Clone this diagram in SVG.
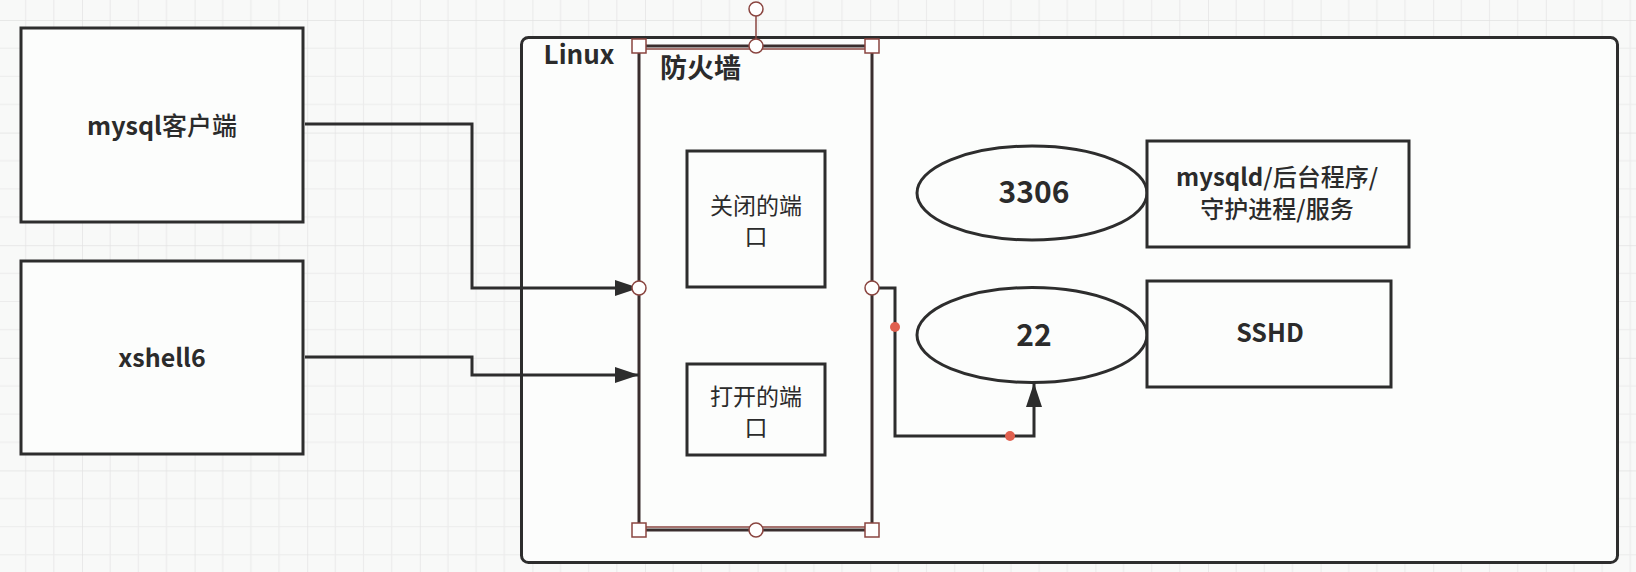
<svg xmlns="http://www.w3.org/2000/svg" width="1636" height="572" viewBox="0 0 1636 572">
  <style>
    .box { fill: #fcfdfc; stroke: #2d2d2d; stroke-width: 3; }
    .conn { fill: none; stroke: #2d2d2d; stroke-width: 3; }
    .t { font-family: "Noto Sans CJK SC", "Noto Sans", sans-serif; fill: #2b2b2b; text-anchor: middle; }
    .bold { font-weight: 700; }
    .med { font-weight: 500; }
    .reg { font-weight: 400; }
    .sel { fill: none; stroke: #8a4540; stroke-width: 1.5; }
    .hnd { fill: #ffffff; stroke: #8a4540; stroke-width: 1.5; }
    .dot { fill: #e0604f; }
  </style>
  <defs>
    <pattern id="grid" patternUnits="userSpaceOnUse" x="82" y="20" width="112.6" height="112.6">
      <path d="M28.15 0V112.6M56.3 0V112.6M84.45 0V112.6M0 28.15H112.6M0 56.3H112.6M0 84.45H112.6" stroke="#ececec" stroke-width="1.2" fill="none"/>
      <path d="M0 0V112.6M0 0H112.6" stroke="#e2e2e2" stroke-width="1.4" fill="none"/>
    </pattern>
    <marker id="arr" markerUnits="userSpaceOnUse" markerWidth="26" markerHeight="18" refX="24" refY="8" orient="auto">
      <path d="M0,0 L24,8 L0,16 z" fill="#2d2d2d"/>
    </marker>
  </defs>

  <rect width="1636" height="572" fill="#f8f9f8"/>
  <rect width="1636" height="572" fill="url(#grid)"/>

  <g id="linux">
    <rect class="box" x="521.5" y="37.5" width="1096" height="525" rx="7"/>
    <text class="t bold" x="579" y="64" font-size="26">Linux</text>
  </g>

  <g id="mysql-client">
    <rect class="box" x="21" y="28" width="282" height="194"/>
    <text class="t med" x="162" y="135" font-size="25"><tspan class="bold">mysql</tspan>客户端</text>
  </g>

  <g id="xshell6">
    <rect class="box" x="21" y="261" width="282" height="193"/>
    <text class="t bold" x="162" y="367" font-size="25">xshell6</text>
  </g>

  <g id="firewall">
    <rect x="639" y="46" width="233" height="484" fill="none" stroke="#3a2e2e" stroke-width="3"/>
    <text class="t bold" x="660" y="78" font-size="27" style="text-anchor:start">防火墙</text>
  </g>

  <g id="closed-port">
    <rect class="box" x="687" y="151" width="138" height="136"/>
    <text class="t reg" x="756" y="214" font-size="23">关闭的端</text>
    <text class="t reg" x="756" y="245" font-size="23">口</text>
  </g>

  <g id="open-port">
    <rect class="box" x="687" y="364" width="138" height="91"/>
    <text class="t reg" x="756" y="405" font-size="23">打开的端</text>
    <text class="t reg" x="756" y="436" font-size="23">口</text>
  </g>

  <g id="port-3306">
    <ellipse class="box" cx="1032" cy="193" rx="115" ry="47"/>
    <text class="t bold" x="1034" y="203" font-size="30">3306</text>
  </g>

  <g id="mysqld">
    <rect class="box" x="1147" y="141" width="262" height="106"/>
    <text class="t med" x="1277" y="186" font-size="24"><tspan class="bold">mysqld</tspan>/后台程序/</text>
    <text class="t med" x="1277" y="218" font-size="24">守护进程/服务</text>
  </g>

  <g id="port-22">
    <ellipse class="box" cx="1032" cy="335" rx="115" ry="47.5"/>
    <text class="t bold" x="1034" y="346" font-size="30">22</text>
  </g>

  <g id="sshd">
    <rect class="box" x="1147" y="281" width="244" height="106"/>
    <text class="t bold" x="1270" y="342" font-size="25">SSHD</text>
  </g>

  <g id="connectors">
    <path class="conn" d="M305 124H472V288H639" marker-end="url(#arr)"/>
    <path class="conn" d="M305 357H472V375H639" marker-end="url(#arr)"/>
    <path class="conn" d="M872 288H895V436H1034V383" marker-end="url(#arr)"/>
    <circle class="dot" cx="895" cy="327" r="5"/>
    <circle class="dot" cx="1010" cy="436" r="5"/>
  </g>

  <g id="selection">
    <line class="sel" x1="646" y1="49" x2="865" y2="49"/>
    <line class="sel" x1="646" y1="527" x2="865" y2="527"/>
    <line class="sel" x1="756" y1="16" x2="756" y2="46"/>
    <circle class="hnd" cx="756" cy="9" r="7"/>
    <circle class="hnd" cx="756" cy="46" r="7"/>
    <circle class="hnd" cx="756" cy="530" r="7"/>
    <circle class="hnd" cx="639" cy="288" r="7"/>
    <circle class="hnd" cx="872" cy="288" r="7"/>
    <rect class="hnd" x="632" y="39" width="14" height="14"/>
    <rect class="hnd" x="865" y="39" width="14" height="14"/>
    <rect class="hnd" x="632" y="523" width="14" height="14"/>
    <rect class="hnd" x="865" y="523" width="14" height="14"/>
  </g>
</svg>
